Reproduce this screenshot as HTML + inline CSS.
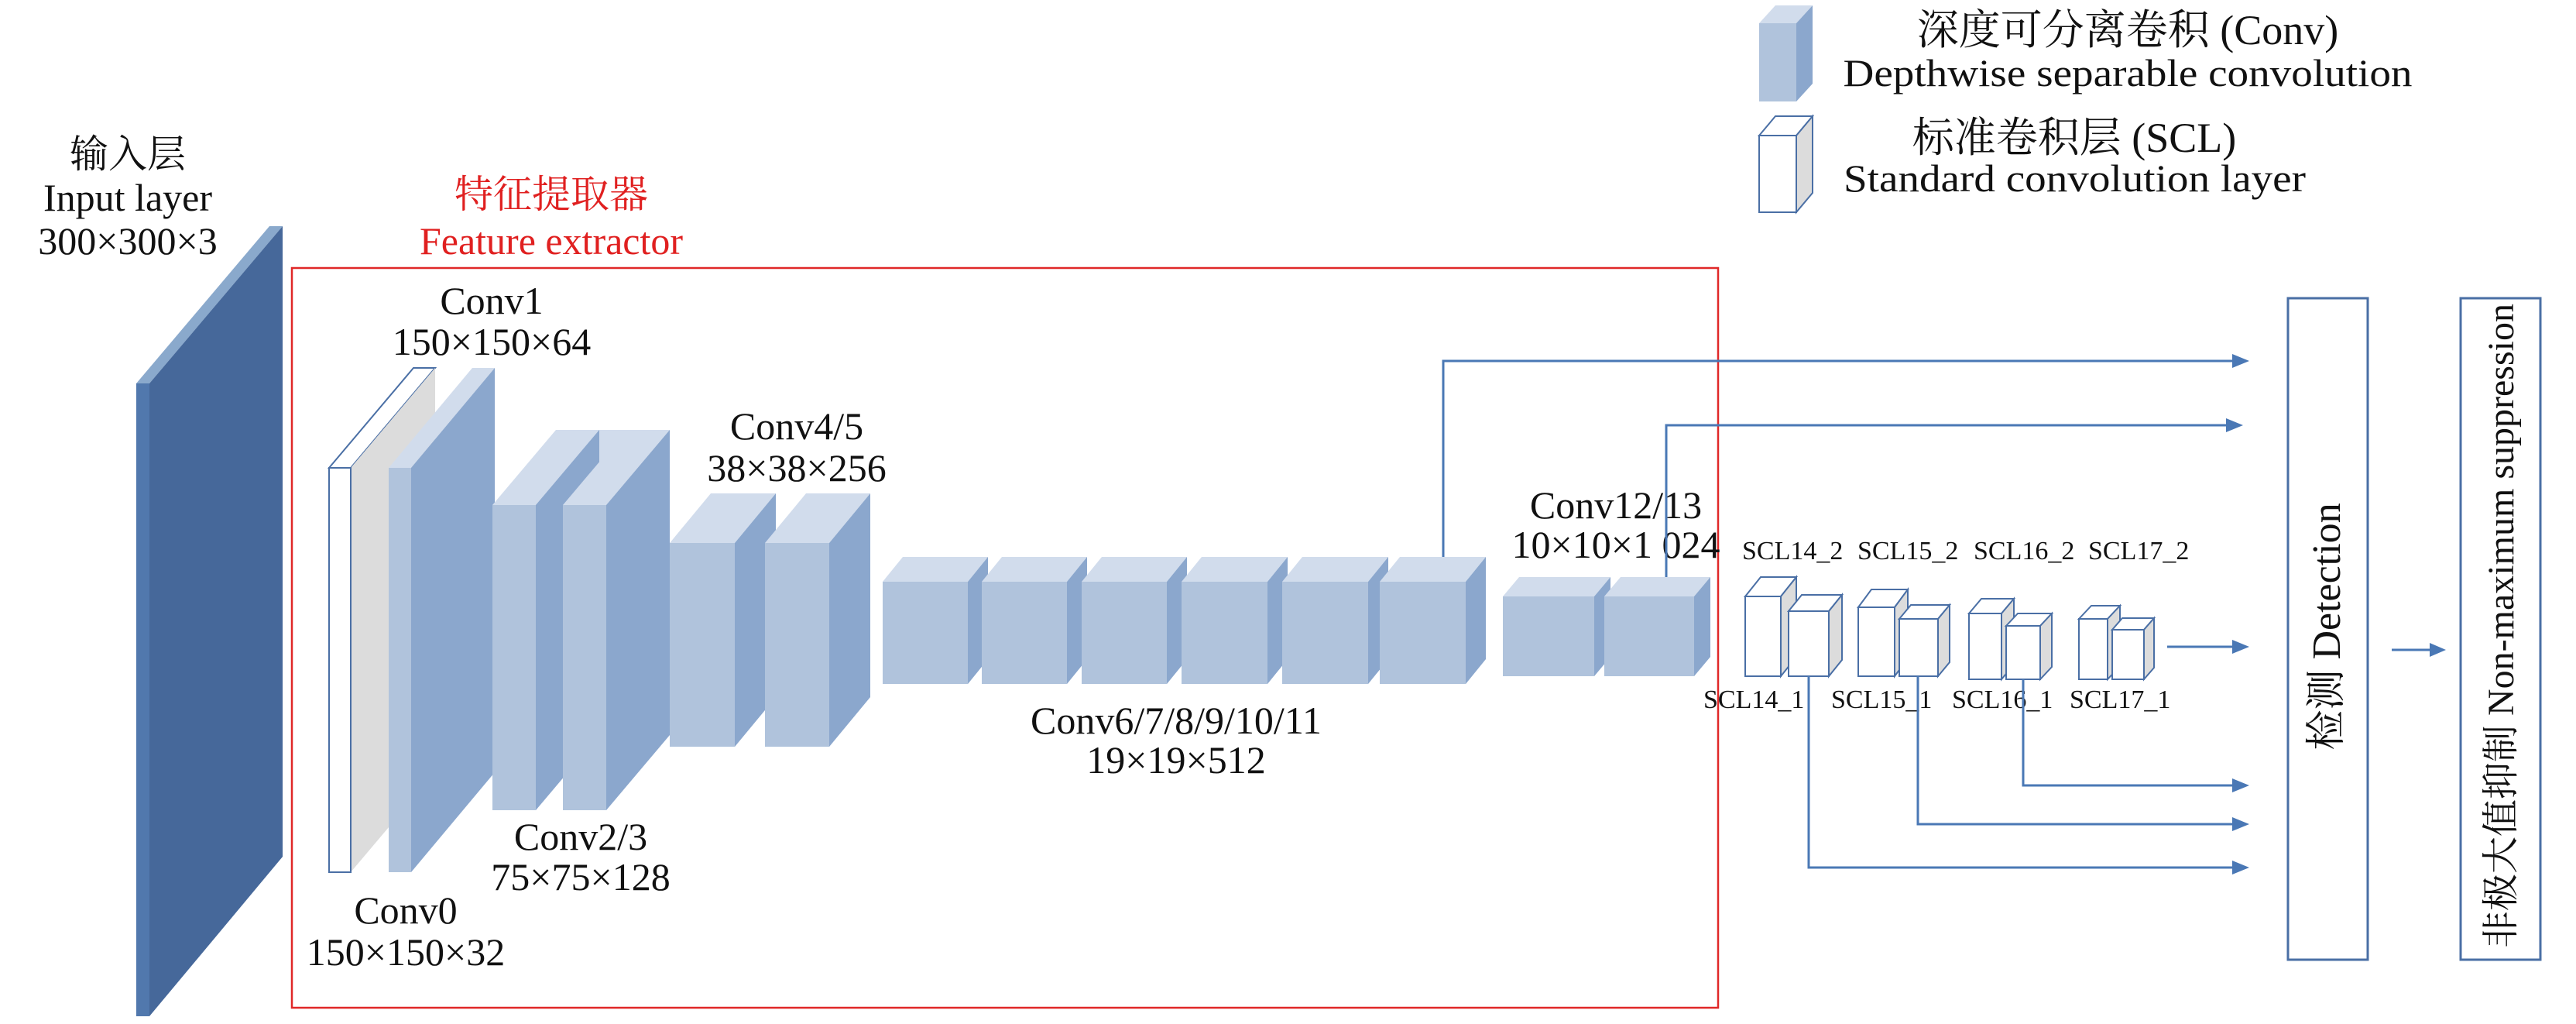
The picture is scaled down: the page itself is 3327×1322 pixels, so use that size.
<!DOCTYPE html>
<html><head><meta charset="utf-8"><style>
html,body{margin:0;padding:0;background:#fff;}
svg{display:block;}
text{font-family:"Liberation Serif","Noto Serif CJK SC","Noto Sans CJK SC",serif;fill:#111;}
</style></head><body>
<svg width="3327" height="1322" viewBox="0 0 3327 1322" xmlns="http://www.w3.org/2000/svg">
<!-- Input slab -->
<polygon points="176,495 348,292 365,292 193,495" fill="#8aa9cc"/>
<polygon points="193,495 365,292 365,1106 193,1312" fill="#46689a"/>
<rect x="176" y="495" width="17" height="817" fill="#5178ad"/>
<text x="165" y="216" font-size="50" text-anchor="middle">输入层</text>
<text x="165" y="272" font-size="50" text-anchor="middle">Input layer</text>
<text x="165" y="328" font-size="50" text-anchor="middle">300×300×3</text>

<!-- red frame -->
<rect x="377" y="346" width="1842" height="955" fill="none" stroke="#e02828" stroke-width="2.5"/>
<text x="712" y="268" font-size="50" text-anchor="middle" style="fill:#e02020">特征提取器</text>
<text x="712" y="328" font-size="50" text-anchor="middle" style="fill:#e02020">Feature extractor</text>

<!-- Conv0 -->
<polygon points="425,604 534,475 562,475 453,604" fill="#fff" stroke="#4a6fa5" stroke-width="2"/>
<polygon points="453,604 562,475 562,997 453,1126" fill="#dcdcdc"/>
<rect x="425" y="604" width="28" height="522" fill="#fff" stroke="#4a6fa5" stroke-width="2"/>
<!-- Conv1 -->
<polygon points="502,604 610,475 639,475 531,604" fill="#d1dcec"/>
<polygon points="531,604 639,475 639,997 531,1126" fill="#8ba7cd"/>
<rect x="502" y="604" width="29" height="522" fill="#b0c3dc"/>

<polygon points="636,652 718,555 856,555 774,652" fill="#d1dcec"/>
<polygon points="692,652 774,555 774,949 692,1046" fill="#8ba7cd"/>
<rect x="636" y="652" width="56" height="394" fill="#b0c3dc"/>
<polygon points="727,652 809,555 865,555 783,652" fill="#d1dcec"/>
<polygon points="783,652 865,555 865,949 783,1046" fill="#8ba7cd"/>
<rect x="727" y="652" width="56" height="394" fill="#b0c3dc"/>
<polygon points="865,701 918,637 1002,637 949,701" fill="#d1dcec"/>
<polygon points="949,701 1002,637 1002,900 949,964" fill="#8ba7cd"/>
<rect x="865" y="701" width="84" height="263" fill="#b0c3dc"/>
<polygon points="988,701 1041,637 1124,637 1071,701" fill="#d1dcec"/>
<polygon points="1071,701 1124,637 1124,900 1071,964" fill="#8ba7cd"/>
<rect x="988" y="701" width="83" height="263" fill="#b0c3dc"/>

<g>
<polygon points="1140,751 1166,719 1276,719 1250,751" fill="#d1dcec"/><polygon points="1250,751 1276,719 1276,851 1250,883" fill="#8ba7cd"/><rect x="1140" y="751" width="110" height="132" fill="#b0c3dc"/>
<polygon points="1268,751 1294,719 1404,719 1378,751" fill="#d1dcec"/><polygon points="1378,751 1404,719 1404,851 1378,883" fill="#8ba7cd"/><rect x="1268" y="751" width="110" height="132" fill="#b0c3dc"/>
<polygon points="1397,751 1423,719 1533,719 1507,751" fill="#d1dcec"/><polygon points="1507,751 1533,719 1533,851 1507,883" fill="#8ba7cd"/><rect x="1397" y="751" width="110" height="132" fill="#b0c3dc"/>
<polygon points="1526,751 1552,719 1663,719 1637,751" fill="#d1dcec"/><polygon points="1637,751 1663,719 1663,851 1637,883" fill="#8ba7cd"/><rect x="1526" y="751" width="111" height="132" fill="#b0c3dc"/>
<polygon points="1656,751 1682,719 1793,719 1767,751" fill="#d1dcec"/><polygon points="1767,751 1793,719 1793,851 1767,883" fill="#8ba7cd"/><rect x="1656" y="751" width="111" height="132" fill="#b0c3dc"/>
<polygon points="1782,751 1808,719 1919,719 1893,751" fill="#d1dcec"/><polygon points="1893,751 1919,719 1919,851 1893,883" fill="#8ba7cd"/><rect x="1782" y="751" width="111" height="132" fill="#b0c3dc"/>
</g>
<polygon points="1941,770 1962,745 2080,745 2059,770" fill="#d1dcec"/><polygon points="2059,770 2080,745 2080,848 2059,873" fill="#8ba7cd"/><rect x="1941" y="770" width="118" height="103" fill="#b0c3dc"/>
<polygon points="2072,770 2093,745 2209,745 2188,770" fill="#d1dcec"/><polygon points="2188,770 2209,745 2209,848 2188,873" fill="#8ba7cd"/><rect x="2072" y="770" width="116" height="103" fill="#b0c3dc"/>

<text x="635" y="405" font-size="50" text-anchor="middle">Conv1</text>
<text x="635" y="458" font-size="50" text-anchor="middle">150×150×64</text>
<text x="1029" y="567" font-size="50" text-anchor="middle">Conv4/5</text>
<text x="1029" y="621" font-size="50" text-anchor="middle">38×38×256</text>
<text x="750" y="1097" font-size="50" text-anchor="middle">Conv2/3</text>
<text x="750" y="1149" font-size="50" text-anchor="middle">75×75×128</text>
<text x="524" y="1192" font-size="50" text-anchor="middle">Conv0</text>
<text x="524" y="1246" font-size="50" text-anchor="middle">150×150×32</text>
<text x="1519" y="947" font-size="50" text-anchor="middle">Conv6/7/8/9/10/11</text>
<text x="1519" y="998" font-size="50" text-anchor="middle">19×19×512</text>
<text x="2087" y="669" font-size="50" text-anchor="middle">Conv12/13</text>
<text x="2087" y="720" font-size="50" text-anchor="middle">10×10×1 024</text>

<g fill="#fff" stroke="#4a6fa5" stroke-width="2">
<polygon points="2254,770 2274,745 2320,745 2300,770"/><polygon points="2300,770 2320,745 2320,848 2300,873" fill="#dcdcdc"/><rect x="2254" y="770" width="46" height="103"/>
<polygon points="2310,789 2327,768 2379,768 2362,789"/><polygon points="2362,789 2379,768 2379,852 2362,873" fill="#dcdcdc"/><rect x="2310" y="789" width="52" height="84"/>
<polygon points="2400,784 2417,761 2464,761 2447,784"/><polygon points="2447,784 2464,761 2464,850 2447,873" fill="#dcdcdc"/><rect x="2400" y="784" width="47" height="89"/>
<polygon points="2453,799 2468,781 2518,781 2503,799"/><polygon points="2503,799 2518,781 2518,855 2503,873" fill="#dcdcdc"/><rect x="2453" y="799" width="50" height="74"/>
<polygon points="2543,792 2559,773 2601,773 2585,792"/><polygon points="2585,792 2601,773 2601,858 2585,877" fill="#dcdcdc"/><rect x="2543" y="792" width="42" height="85"/>
<polygon points="2591,808 2606,792 2650,792 2635,808"/><polygon points="2635,808 2650,792 2650,861 2635,877" fill="#dcdcdc"/><rect x="2591" y="808" width="44" height="69"/>
<polygon points="2685,799 2701,782 2738,782 2722,799"/><polygon points="2722,799 2738,782 2738,860 2722,877" fill="#dcdcdc"/><rect x="2685" y="799" width="37" height="78"/>
<polygon points="2728,813 2741,798 2782,798 2769,813"/><polygon points="2769,813 2782,798 2782,862 2769,877" fill="#dcdcdc"/><rect x="2728" y="813" width="41" height="64"/>
</g>
<g font-size="34">
<text x="2250" y="722">SCL14_2</text>
<text x="2399" y="722">SCL15_2</text>
<text x="2549" y="722">SCL16_2</text>
<text x="2697" y="722">SCL17_2</text>
<text x="2200" y="914">SCL14_1</text>
<text x="2365" y="914">SCL15_1</text>
<text x="2521" y="914">SCL16_1</text>
<text x="2673" y="914">SCL17_1</text>
</g>

<g fill="none" stroke="#4a78b5" stroke-width="3">
<polyline points="1864,719 1864,466 2885,466"/>
<polyline points="2152,745 2152,549 2877,549"/>
<polyline points="2799,835 2885,835"/>
<polyline points="2336,873 2336,1120 2885,1120"/>
<polyline points="2477,873 2477,1064 2885,1064"/>
<polyline points="2613,877 2613,1014 2885,1014"/>
<polyline points="3089,839 3140,839"/>
</g>
<g fill="#4a78b5">
<polygon points="2883,457 2905,466 2883,475"/>
<polygon points="2875,540 2897,549 2875,558"/>
<polygon points="2883,826 2905,835 2883,844"/>
<polygon points="2883,1111 2905,1120 2883,1129"/>
<polygon points="2883,1055 2905,1064 2883,1073"/>
<polygon points="2883,1005 2905,1014 2883,1023"/>
<polygon points="3138,830 3159,839 3138,848"/>
</g>

<rect x="2955" y="385" width="103" height="854" fill="none" stroke="#4a6fa5" stroke-width="3"/>
<text transform="translate(3022,809) rotate(-90)" font-size="52" text-anchor="middle">检测 Detection</text>
<rect x="3178" y="385" width="103" height="854" fill="none" stroke="#4a6fa5" stroke-width="3"/>
<text transform="translate(3246,808) rotate(-90)" font-size="48" text-anchor="middle">非极大值抑制 Non-maximum suppression</text>

<polygon points="2272,30 2293,7 2341,7 2320,30" fill="#d1dcec"/>
<polygon points="2320,30 2341,7 2341,108 2320,131" fill="#8ba7cd"/>
<rect x="2272" y="30" width="48" height="101" fill="#b0c3dc"/>
<g fill="#fff" stroke="#4a6fa5" stroke-width="2">
<polygon points="2272,175 2293,150 2341,150 2320,175"/>
<polygon points="2320,175 2341,150 2341,249 2320,274" fill="#dcdcdc"/>
<rect x="2272" y="175" width="48" height="99"/>
</g>
<text x="2748" y="57" font-size="54" text-anchor="middle">深度可分离卷积 (Conv)</text>
<text x="2748" y="111" font-size="50" text-anchor="middle" textLength="735" lengthAdjust="spacingAndGlyphs">Depthwise separable convolution</text>
<text x="2679" y="196" font-size="54" text-anchor="middle">标准卷积层 (SCL)</text>
<text x="2381" y="247" font-size="50" textLength="597" lengthAdjust="spacingAndGlyphs">Standard convolution layer</text>
</svg>
</body></html>
